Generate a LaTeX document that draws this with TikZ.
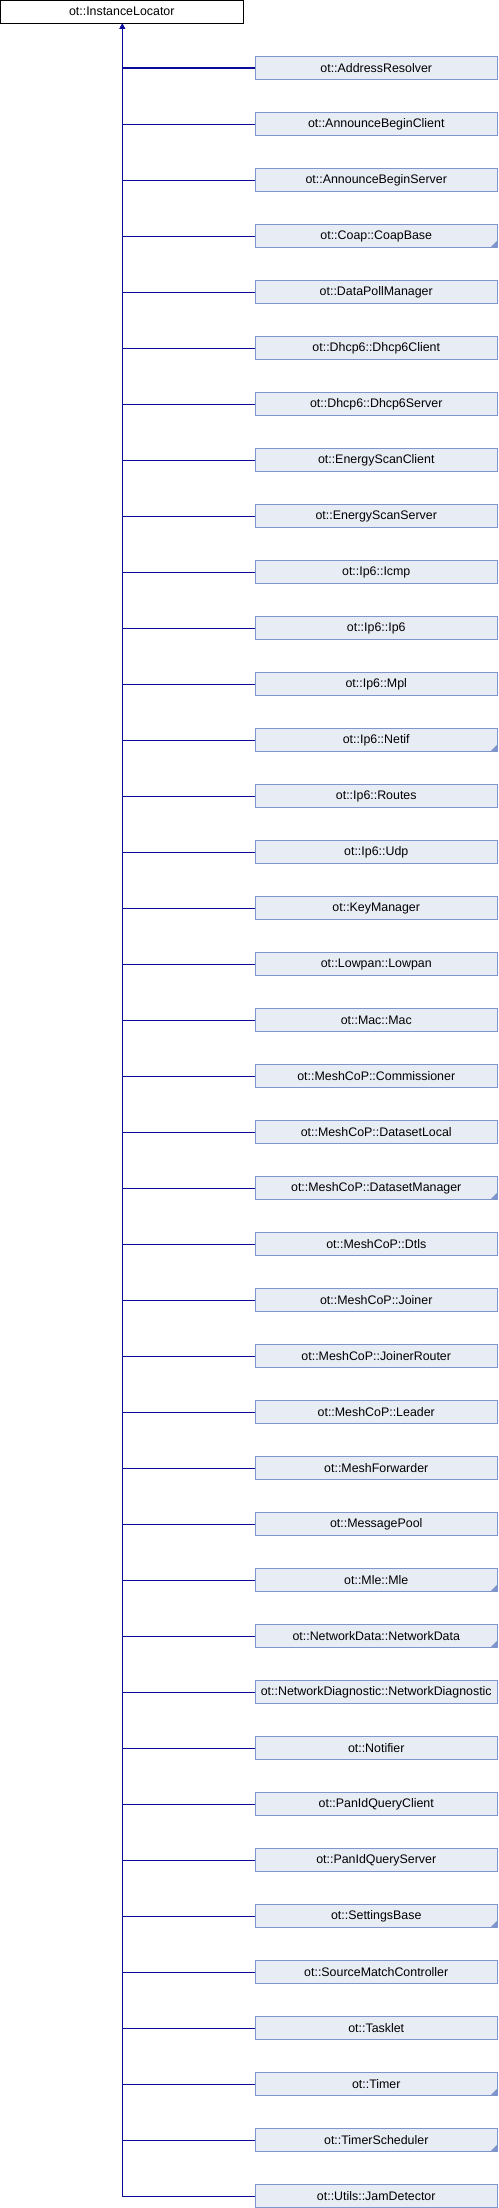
\documentclass[tikz,border=0pt]{standalone}
\usepackage{fontspec}
\setmainfont{Liberation Sans}
\usetikzlibrary{arrows.meta}
\definecolor{boxfill}{HTML}{E8ECF4}
\definecolor{boxdraw}{HTML}{7E96CB}
\definecolor{linecol}{HTML}{0A0A9A}
\tikzset{
  basebox/.style={draw=black, fill=white, line width=0.9pt, minimum width=242.5pt,
    minimum height=22.5pt, inner sep=0pt, outer sep=0pt,
    font=\fontsize{12.4}{14}\selectfont, anchor=north west},
  derivedbox/.style={basebox, draw=boxdraw, fill=boxfill},
  conn/.style={draw=linecol, line width=1.1pt},
  inhtip/.style={conn, -{Triangle[width=6pt,length=6pt]}},
  cornermark/.style={fill=boxdraw}
}
\begin{document}
\begin{tikzpicture}[x=1pt,y=1pt]
\useasboundingbox (0,0) rectangle (498,-2208);
\node[basebox] (root) at (0.5,-0.5) {ot::InstanceLocator};
\coordinate (tb) at (122.3,-2196.1);
\foreach \name [count=\i] in {ot::AddressResolver, ot::AnnounceBeginClient, ot::AnnounceBeginServer, ot::Coap::CoapBase, ot::DataPollManager, ot::Dhcp6::Dhcp6Client, ot::Dhcp6::Dhcp6Server, ot::EnergyScanClient, ot::EnergyScanServer, ot::Ip6::Icmp, ot::Ip6::Ip6, ot::Ip6::Mpl, ot::Ip6::Netif, ot::Ip6::Routes, ot::Ip6::Udp, ot::KeyManager, ot::Lowpan::Lowpan, ot::Mac::Mac, ot::MeshCoP::Commissioner, ot::MeshCoP::DatasetLocal, ot::MeshCoP::DatasetManager, ot::MeshCoP::Dtls, ot::MeshCoP::Joiner, ot::MeshCoP::JoinerRouter, ot::MeshCoP::Leader, ot::MeshForwarder, ot::MessagePool, ot::Mle::Mle, ot::NetworkData::NetworkData, ot::NetworkDiagnostic::NetworkDiagnostic, ot::Notifier, ot::PanIdQueryClient, ot::PanIdQueryServer, ot::SettingsBase, ot::SourceMatchController, ot::Tasklet, ot::Timer, ot::TimerScheduler, ot::Utils::JamDetector} {
  \node[derivedbox] (c\i) at (255,{-56.8-56*(\i-1)}) {\name};
  \draw[conn] (c\i.west) -- (c\i.west -| tb);
}
\foreach \k in {4,13,21,28,29,34,37,38} {
  \fill[cornermark] ([xshift=-0.45pt,yshift=0.45pt]c\k.south east) -- ++(-6,0) -- ++(6,6) -- cycle;
}
\draw[inhtip] (tb) -- (tb |- root.south);
\end{tikzpicture}
\end{document}
